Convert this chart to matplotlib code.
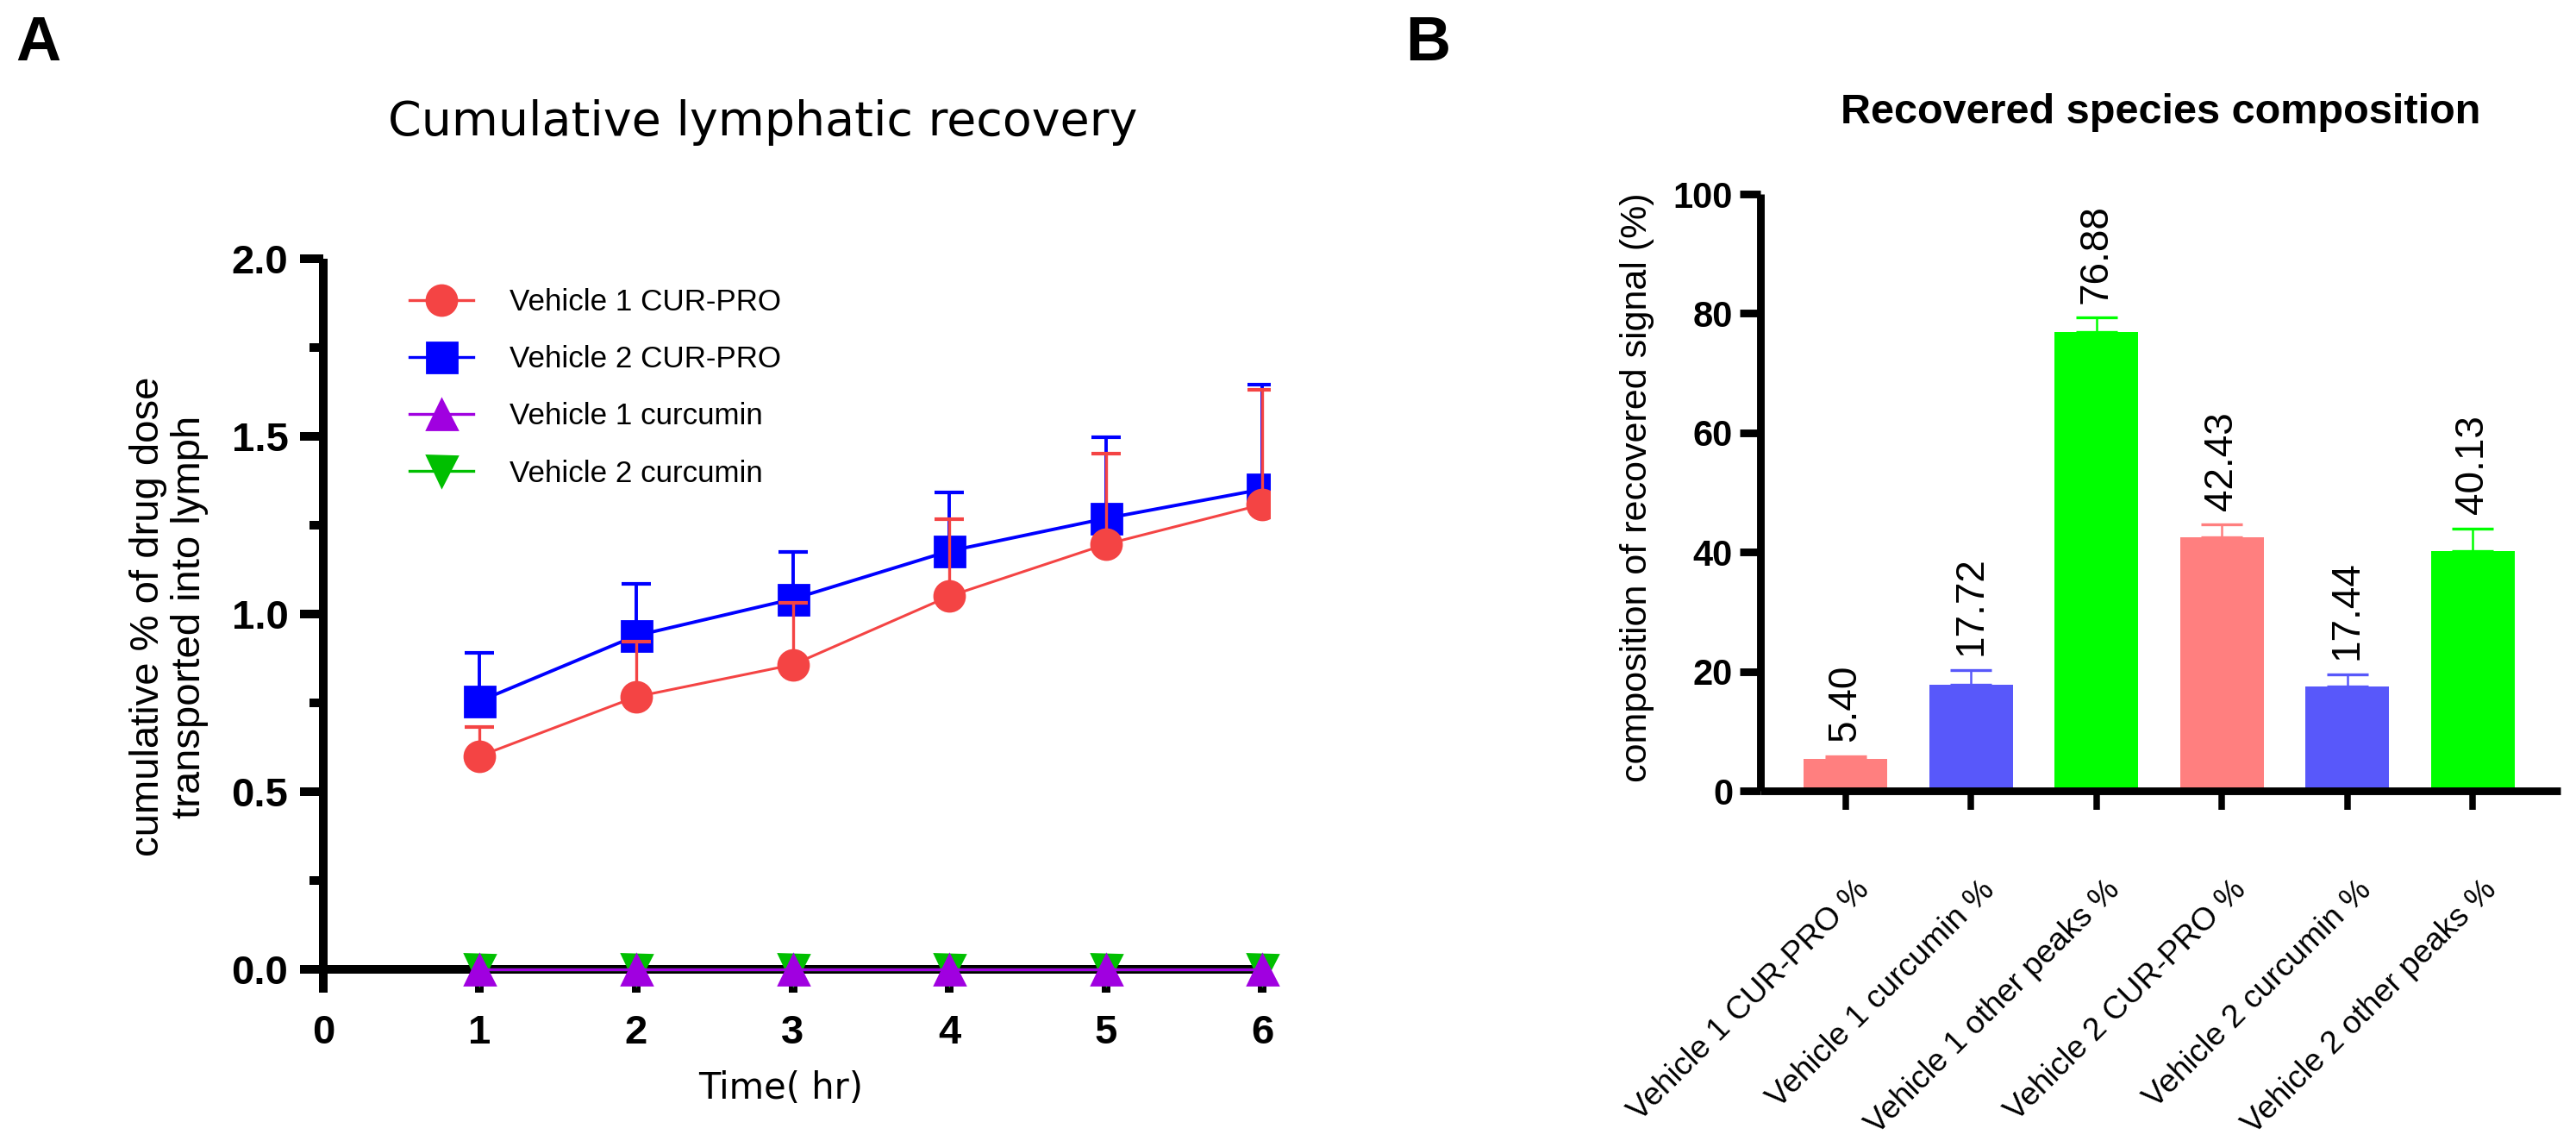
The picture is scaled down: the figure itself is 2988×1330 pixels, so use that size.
import numpy as np
import matplotlib
matplotlib.use("Agg")
import matplotlib.pyplot as plt
from matplotlib.ticker import MultipleLocator, FormatStrFormatter
from matplotlib.lines import Line2D
from matplotlib.transforms import ScaledTranslation

# ---- data: panel A (cumulative % of dose in lymph) ----
time_hr = [1, 2, 3, 4, 5, 6]
v1_curpro = [0.60, 0.767, 0.857, 1.05, 1.196, 1.308]
v1_curpro_err = [0.082, 0.155, 0.175, 0.216, 0.255, 0.322]
v2_curpro = [0.755, 0.939, 1.042, 1.177, 1.269, 1.351]
v2_curpro_err = [0.136, 0.145, 0.133, 0.165, 0.228, 0.294]
v1_curcumin = [0, 0, 0, 0, 0, 0]
v2_curcumin = [0, 0, 0, 0, 0, 0]

# ---- data: panel B (composition of recovered signal) ----
species = ['Vehicle 1 CUR-PRO %', 'Vehicle 1 curcumin %', 'Vehicle 1 other peaks %',
           'Vehicle 2 CUR-PRO %', 'Vehicle 2 curcumin %', 'Vehicle 2 other peaks %']
composition = [5.40, 17.72, 76.88, 42.43, 17.44, 40.13]
composition_err = [0.4, 2.5, 2.4, 2.2, 2.1, 3.8]
bar_colors = ['#FF7F7F', '#5858FA', '#00FF00', '#FF7F7F', '#5858FA', '#00FF00']

ARIAL = 'Liberation Sans'
VERD = 'DejaVu Sans'

RED, BLUE, PURPLE, GREEN = '#F44444', '#0000FF', '#A000E0', '#00BF00'

fig = plt.figure(figsize=(14.94, 6.65), dpi=200)

# ================= Panel A =================
axA = fig.add_axes([0.1255, 0.1346, 0.3675, 0.6398])
mk = 12.6
zero = np.zeros(len(time_hr))

axA.errorbar(time_hr, v2_curpro, yerr=[zero, v2_curpro_err], color=BLUE, marker='s',
             markersize=mk, lw=1.4, elinewidth=1.4, capsize=6.2, capthick=1.5, zorder=4)
axA.errorbar(time_hr, v1_curpro, yerr=[zero, v1_curpro_err], color=RED, marker='o',
             markersize=mk, lw=1.1, elinewidth=1.2, capsize=6.2, capthick=1.5, zorder=5)
axA.plot(time_hr, v2_curcumin, color=GREEN, marker='v', markersize=mk, lw=1.2,
         zorder=5, clip_on=False)
axA.plot(time_hr, v1_curcumin, color=PURPLE, marker='^', markersize=mk, lw=1.2,
         zorder=6, clip_on=False)

axA.set_xlim(0, 6.05)
axA.set_ylim(-0.066, 2.0)
axA.spines['top'].set_visible(False)
axA.spines['right'].set_visible(False)
axA.spines['bottom'].set_position(('data', 0))
for s in ['left', 'bottom']:
    axA.spines[s].set_linewidth(3.6)
    axA.spines[s].set_capstyle('butt')
axA.set_xticks(range(0, 7))
axA.yaxis.set_major_locator(MultipleLocator(0.5))
axA.yaxis.set_minor_locator(MultipleLocator(0.25))
axA.yaxis.set_major_formatter(FormatStrFormatter('%.1f'))
axA.tick_params(axis='x', direction='out', length=9.7, width=3.6, pad=9)
axA.tick_params(axis='y', which='major', direction='out', length=9.6, width=3.6, pad=5)
axA.tick_params(axis='y', which='minor', direction='out', length=5.6, width=3.6)
for lab in axA.get_xticklabels() + axA.get_yticklabels():
    lab.set_fontfamily(ARIAL)
    lab.set_fontweight('bold')
    lab.set_fontsize(17)

legend_items = [('Vehicle 1 CUR-PRO', RED, 'o'), ('Vehicle 2 CUR-PRO', BLUE, 's'),
                ('Vehicle 1 curcumin', PURPLE, '^'), ('Vehicle 2 curcumin', GREEN, 'v')]
proxies = [Line2D([], [], color=c, marker=m, markersize=mk, lw=1.2) for _, c, m in legend_items]
axA.legend(proxies, [n for n, _, _ in legend_items], loc='upper left', frameon=False,
           bbox_to_anchor=(0.159, 0.749), bbox_transform=fig.transFigure,
           borderpad=0, borderaxespad=0, handlelength=2.1, handletextpad=1.2,
           labelspacing=0.95, prop={'family': ARIAL, 'size': 12.6})

fig.text(0.296, 0.893, 'Cumulative lymphatic recovery', family=VERD, fontsize=20,
         ha='center', va='center')
fig.text(0.0655, 0.4624, 'cumulative % of drug dose\ntransported into lymph', family=ARIAL,
         fontsize=17, rotation=90, ha='center', va='center', linespacing=1.12)
fig.text(0.303, 0.051, 'Time( hr)', family=VERD, fontsize=15, ha='center', va='center')
fig.text(0.006, 0.962, 'A', family=ARIAL, fontweight='bold', fontsize=26, ha='left', va='center')

# ================= Panel B =================
axB = fig.add_axes([0.6834, 0.3105, 0.3106, 0.5203])
xpos = np.arange(len(species))
axB.bar(xpos, composition, width=0.667, color=bar_colors, zorder=2)
for i in range(len(species)):
    axB.errorbar(xpos[i], composition[i], yerr=[[0], [composition_err[i]]], color=bar_colors[i],
                 elinewidth=0.9, capsize=8.5, capthick=1.2, zorder=1.5)
    axB.annotate(f'{composition[i]:.2f}', (xpos[i], composition[i] + composition_err[i]),
                 xytext=(0, 6), textcoords='offset points', rotation=90,
                 ha='center', va='bottom', family=ARIAL, fontsize=16.5)

axB.set_xlim(-0.678, 5.70)
axB.set_ylim(0, 100)
axB.spines['top'].set_visible(False)
axB.spines['right'].set_visible(False)
for s in ['left', 'bottom']:
    axB.spines[s].set_linewidth(3.2)
    axB.spines[s].set_capstyle('butt')
axB.set_yticks([0, 20, 40, 60, 80, 100])
axB.set_xticks(xpos)
axB.set_xticklabels(species, rotation=45, ha='right', va='top', rotation_mode='anchor')
axB.tick_params(axis='y', direction='out', length=8.5, width=3.2, pad=3)
axB.tick_params(axis='x', direction='out', length=8, width=2.7, pad=27)
for lab in axB.get_yticklabels():
    lab.set_fontfamily(ARIAL)
    lab.set_fontweight('bold')
    lab.set_fontsize(15)
shift = ScaledTranslation(0.05, 0, fig.dpi_scale_trans)
for lab in axB.get_xticklabels():
    lab.set_fontfamily(ARIAL)
    lab.set_fontsize(13.4)
    lab.set_transform(lab.get_transform() + shift)

fig.text(0.8387, 0.902, 'Recovered species composition', family=ARIAL, fontweight='bold',
         fontsize=17.5, ha='center', va='center')
fig.text(0.6355, 0.575, 'composition of recovered signal (%)', family=ARIAL, fontsize=15.5,
         rotation=90, ha='center', va='center')
fig.text(0.5455, 0.962, 'B', family=ARIAL, fontweight='bold', fontsize=26, ha='left', va='center')

fig.savefig('out.png', dpi=200)
